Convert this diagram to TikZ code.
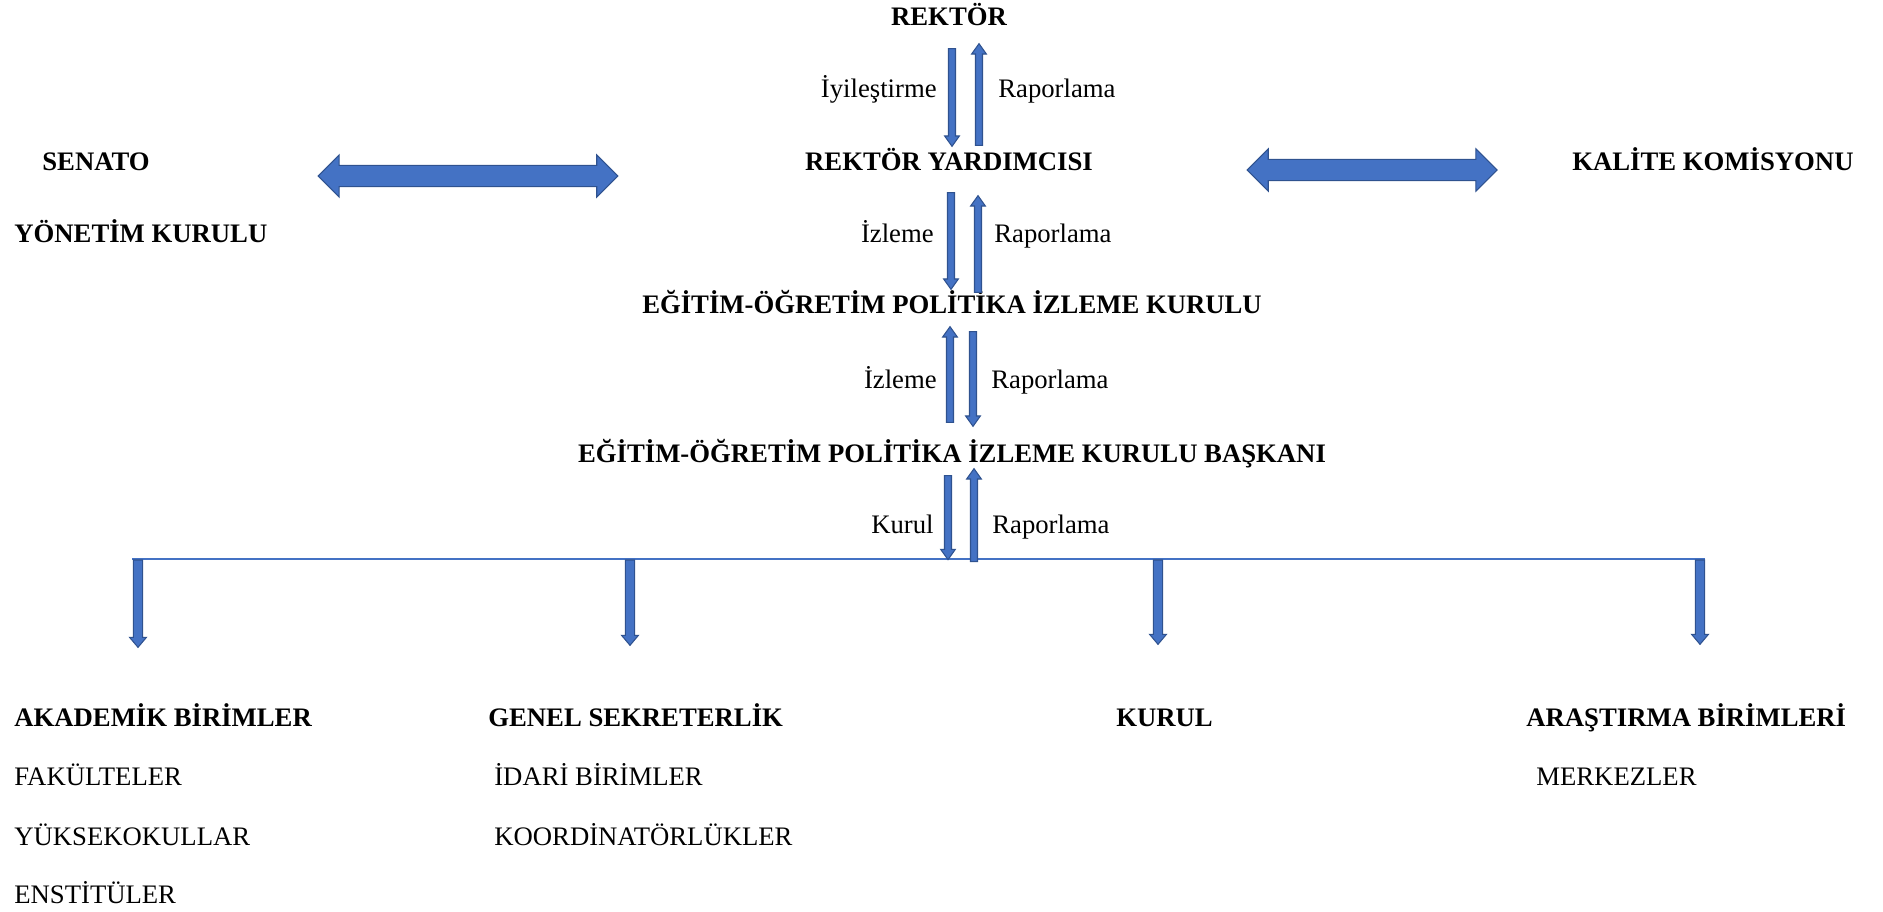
\documentclass[tikz,border=0pt]{standalone}
\usepackage{fontspec}
\setmainfont{Liberation Serif}
\usetikzlibrary{positioning,calc}

\definecolor{blkfill}{RGB}{68,114,196}
\definecolor{blkline}{RGB}{47,82,143}
\newcommand\diagfont{\fontsize{15.2}{18}\selectfont}

\tikzset{
    hd/.style={font=\diagfont\bfseries},
    blk/.style={draw=blkline, fill=blkfill, line width=0.6pt, line join=miter},
    blockarrow/.style n args={3}{blk, to path={
        let \p1=(\tikztostart), \p2=(\tikztotarget), \p3=($(\p2)!#3!(\p1)$) in
        ($(\p1)!#1!90:(\p2)$) -- ($(\p3)!#1!90:(\p2)$) -- ($(\p3)!#2!90:(\p2)$) -- (\p2)
        -- ($(\p3)!#2!-90:(\p2)$) -- ($(\p3)!#1!-90:(\p2)$) -- ($(\p1)!#1!-90:(\p2)$) -- cycle}},
    twoway/.style n args={3}{blk, to path={
        let \p1=(\tikztostart), \p2=(\tikztotarget), \p3=($(\p2)!#3!(\p1)$), \p4=($(\p1)!#3!(\p2)$) in
        (\p1) -- ($(\p4)!#2!90:(\p2)$) -- ($(\p4)!#1!90:(\p2)$) -- ($(\p3)!#1!90:(\p2)$) -- ($(\p3)!#2!90:(\p2)$) -- (\p2)
        -- ($(\p3)!#2!-90:(\p2)$) -- ($(\p3)!#1!-90:(\p2)$) -- ($(\p4)!#1!-90:(\p2)$) -- ($(\p4)!#2!-90:(\p2)$) -- cycle}},
    thinarrow/.style={blockarrow={2pt}{4.2pt}{5.9pt}},
    busarrow/.style={blockarrow={2.6pt}{4.8pt}{5.7pt}},
    widearrow/.style={twoway={6pt}{12pt}{12pt}},
    bus/.style={draw=blkfill, line width=1.1pt}
}

\begin{document}
\begin{tikzpicture}[x=0.02cm, y=-0.02cm]
    \useasboundingbox (0,0) rectangle (1883,912);
            \begin{scope}[%
                every node/.style={inner sep=0,
                text height=12pt,
                text depth=2pt,
                font=\diagfont
            }]
    % main column
    \node[hd] (rektor) at (949,17) {REKTÖR};
    \node[hd] (yard) at (949,162) {REKTÖR YARDIMCISI};
    \node[hd] (izkurul) at (952,305) {EĞİTİM-ÖĞRETİM POLİTİKA İZLEME KURULU};
    \node[hd] (baskan) at (952,454) {EĞİTİM-ÖĞRETİM POLİTİKA İZLEME KURULU BAŞKANI};

    % sides
    \node[hd, anchor=west] (senato) at (42,162) {SENATO};
    \node[hd, anchor=west] (yonetim) at (14,234) {YÖNETİM KURULU};
    \node[hd, anchor=west] (kalite) at (1572,162) {KALİTE KOMİSYONU};

    % arrow labels
    \node[anchor=east] (iyi) at (937,89) {İyileştirme};
    \node[anchor=west] (rap1) at (998,89) {Raporlama};
    \node[anchor=east] (izl1) at (934,234) {İzleme};
    \node[anchor=west] (rap2) at (994,234) {Raporlama};
    \node[anchor=east] (izl2) at (937,380) {İzleme};
    \node[anchor=west] (rap3) at (991,380) {Raporlama};
    \node[anchor=east] (kur) at (934,525) {Kurul};
    \node[anchor=west] (rap4) at (992,525) {Raporlama};

    % units
    \node[hd, anchor=west] (akad) at (14,718) {AKADEMİK BİRİMLER};
    \node[below=1.18cm of akad.west, anchor=west] (fak) {FAKÜLTELER};
    \node[below=1.2cm of fak.west, anchor=west] (yuk) {YÜKSEKOKULLAR};
    \node[below=1.16cm of yuk.west, anchor=west] (enst) {ENSTİTÜLER};
    \node[hd, anchor=west] (genel) at (488,718) {GENEL SEKRETERLİK};
    \node[anchor=west] (idari) at (494,777) {İDARİ BİRİMLER};
    \node[below=1.2cm of idari.west, anchor=west] (koord) {KOORDİNATÖRLÜKLER};
    \node[hd, anchor=west] (kurulb) at (1116,718) {KURUL};
    \node[hd, anchor=west] (arast) at (1526,718) {ARAŞTIRMA BİRİMLERİ};
    \node[anchor=west] (merkez) at (1536,777) {MERKEZLER};
  \end{scope}

    \coordinate (busL) at (132,559);
    \coordinate (busR) at (1705,559);
    \draw[bus] (busL) -- (busR);

    \draw[widearrow] ($(senato.east)+(168,14)$) to ($(yard.west)+(-187,14)$);
    \draw[widearrow] ($(yard.east)+(154,8)$) to ($(kalite.west)+(-75,8)$);

    \draw[thinarrow] ($(rektor.south)+(3,19)$) to ($(yard.north)+(3,-3)$);
    \draw[thinarrow] ($(yard.north)+(30,-4)$) to ($(rektor.south)+(30,14)$);
    \draw[thinarrow] ($(yard.south)+(2,18)$) to ($(izkurul.north)+(-1,-3)$);
    \draw[thinarrow] ($(izkurul.north)+(26,0)$) to ($(yard.south)+(29,21)$);
    \draw[thinarrow] ($(baskan.north)+(-2,-19)$) to ($(izkurul.south)+(-2,9)$);
    \draw[thinarrow] ($(izkurul.south)+(21,14)$) to ($(baskan.north)+(21,-15)$);
    \draw[thinarrow] ($(baskan.south)+(-4,9)$) to ($(baskan.south)+(-4,93)$);
    \draw[thinarrow] ($(baskan.south)+(22,95)$) to ($(baskan.south)+(22,2)$);

    \draw[busarrow] ($(busL)+(6,1)$) to ($(akad.north west)+(124,-58)$);
    \draw[busarrow] ($(busL)+(498,1)$) to ($(genel.north west)+(142,-60)$);
    \draw[busarrow] ($(busL)+(1026,1)$) to ($(kurulb.north west)+(42,-61)$);
    \draw[busarrow] ($(busR)+(-5,1)$) to ($(arast.north west)+(174,-61)$);
\end{tikzpicture}
\end{document}
